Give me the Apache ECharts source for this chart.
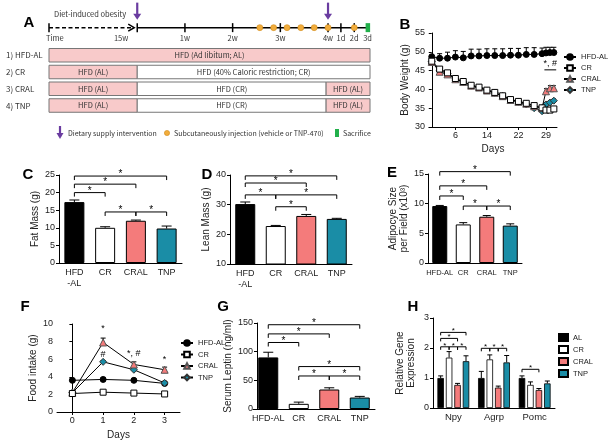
<!DOCTYPE html>
<html><head><meta charset="utf-8">
<script src="https://cdn.jsdelivr.net/npm/echarts@6/dist/echarts.min.js"></script>
<style>html,body{margin:0;padding:0;background:#fff}#c{width:615px;height:447px}</style>
</head><body><div id="c"></div>
<script>
// ================= DATA =================
const groups = ['HFD-AL','CR','CRAL','TNP'];
const barLabelsCD = ['HFD\n-AL','CR','CRAL','TNP'];
const barLabelsEG = ['HFD-AL','CR','CRAL','TNP'];

// Panel A (schematic; x in weeks after diet intervention, pre-phase compressed)
const rowLabels = ['1) HFD-AL','2) CR','3) CRAL','4) TNP'];
const phaseRow   = [1,2,2,3,3,3,4,4,4];
const phaseStart = [-1.85,-1.85,0,-1.85,0,3.96,-1.85,0,3.96];
const phaseEnd   = [4.88,0,4.88,0,3.96,4.88,0,3.96,4.88];
const phaseText  = ['HFD (Ad libitum; AL)','HFD (AL)','HFD (40% Caloric restriction; CR)','HFD (AL)','HFD (CR)','HFD (AL)','HFD (AL)','HFD (CR)','HFD (AL)'];
const phaseDiet  = ['AL','AL','CR','AL','CR','AL','AL','CR','AL'];
const timeTickAt = [-1.85,0,1,2,3,4,4.27,4.55,4.83];
const timeTickLabels = ['Time','15w','1w','2w','3w','4w','1d','2d','3d'];
const interventionAt = [0,4];
const injectionAt = [2.57,2.86,3.14,3.43,3.71,4.0,4.55];
const sacrificeAt = [4.83];

// Panel B body weight
const bDays   = [0,2,4,6,8,10,12,14,16,18,20,22,24,26,28,29,30,31];
const bHFDAL  = [48.7,48.3,48.3,48.6,48.4,48.9,48.9,49.0,49.0,49.0,49.1,49.1,49.3,49.3,49.5,49.7,49.8,49.8];
const bHFDALe = [0.4,1.2,1.6,1.7,1.7,1.8,1.8,1.8,1.8,1.8,1.8,1.8,1.8,1.8,1.5,1.5,1.4,1.4];
const bCR     = [47.5,45.4,44.4,42.9,42.1,41.1,40.6,39.8,39.2,38.3,37.3,36.8,36.3,35.7,35.1,34.5,34.5,34.8];
const bCRe    = [0.4,0.4,0.4,0.4,0.4,0.4,0.4,0.4,0.4,0.4,0.4,0.4,0.4,0.4,0.4,0.5,0.5,0.5];
const bCRAL   = [47.3,44.7,44.0,42.7,42.0,41.0,40.5,39.7,39.1,38.2,37.2,36.7,36.2,35.5,35.0,39.5,40.3,40.3];
const bCRALe  = [0.4,0.4,0.4,0.4,0.4,0.4,0.4,0.4,0.4,0.4,0.4,0.4,0.4,0.4,0.4,0.7,0.7,0.7];
const bTNP    = [47.4,45.1,44.2,42.8,42.0,41.0,40.5,39.7,39.1,38.2,37.2,36.7,36.0,35.0,34.2,36.0,36.5,37.0];
const bTNPe   = [0.4,0.4,0.4,0.4,0.4,0.4,0.4,0.4,0.4,0.4,0.4,0.4,0.4,0.4,0.4,0.5,0.5,0.5];
const bTickDays = [6,14,22,29];
const bAnnotText = ['*, #'];
const bAnnotAt = [[30.1,47.0]];
const bAnnotLine = [[28.6,45.2,31.6]];

// Panel C fat mass
const fatMass = [17.3,10.0,12.0,9.8];
const fatErr  = [0.6,0.3,0.2,0.7];
const fatSig  = [[0,24.7,3],[0,22.4,2],[0,20.0,1],[1,14.5,2],[2,14.5,3]];

// Panel D lean mass
const leanMass = [30.2,22.8,26.2,25.2];
const leanErr  = [0.7,0.2,0.5,0.2];
const leanSig  = [[0,39.7,3],[0,37.3,2],[0,33.3,1],[1,33.3,3],[1,29.3,2]];

// Panel E adipocyte size
const adipSize = [9.6,6.5,7.8,6.3];
const adipErr  = [0.1,0.3,0.2,0.3];
const adipSig  = [[0,15.4,3],[0,13.0,2],[0,11.3,1],[1,9.6,2],[2,9.6,3]];

// Panel F food intake
const fDays  = [0,1,2,3];
const fHFDAL = [3.6,3.7,3.6,3.25];
const fCR    = [2.1,2.25,2.15,2.05];
const fCRAL  = [2.2,7.9,5.4,4.8];
const fTNP   = [2.2,5.7,4.8,3.3];
const fHFDALe= [0.1,0.15,0.1,0.1];
const fCRe   = [0.1,0.1,0.1,0.1];
const fCRALe = [0.1,0.5,0.3,0.3];
const fTNPe  = [0.1,0.15,0.2,0.15];
const fAnnotText = ['*','#','*, #','*'];
const fAnnotAt = [[1,9.5],[1,6.5],[2,6.6],[3,6.0]];

// Panel G serum leptin
const leptin    = [90,9,34,20];
const leptinErr = [9,3,3,2];
const leptinSig = [[0,147,3],[0,131,2],[0,116,1],[1,74,3],[1,57.6,2],[2,57.6,3]];

// Panel H gene expression
const hGenes = ['Npy','Agrp','Pomc'];
const hGroups = ['AL','CR','CRAL','TNP'];
const hAL   = [1.0,1.0,1.0];   const hALe   = [0.07,0.22,0.07];
const hCR   = [1.68,1.62,0.77]; const hCRe  = [0.2,0.15,0.1];
const hCRAL = [0.77,0.68,0.6]; const hCRALe = [0.05,0.05,0.05];
const hTNP  = [1.56,1.52,0.82]; const hTNPe = [0.18,0.23,0.08];
// [gene, y, barA, barB]
const hSig = [[0,2.52,0,3],[0,2.32,0,2],[0,2.04,0,1],[0,2.04,1,2],[0,2.04,2,3],
              [1,1.99,0,1],[1,1.99,1,2],[1,1.99,2,3],[2,1.29,0,2]];

// ================= STYLE =================
const FN = "'Liberation Sans',Arial,sans-serif";
const FB = "'Liberation Sans',Arial,sans-serif";
const FA = "'Noto Sans CJK KR','Noto Sans',sans-serif";
const C_PINK = '#F47B7B', C_TEAL = '#1A8DA6';
const barColors = ['#000','#fff',C_PINK,C_TEAL];
const PINK_A = '#F8CACA';
const PURPLE = '#6A3CA0', ORANGE = '#F2AD3C', GREEN = '#22B04B';
const TXT = '#222';
const TL_Y = -0.65;

function T(text, x, y, size, opts){
  opts = opts || {};
  return {type:'text', style:{text:text, x:x, y:y, fontSize:size, fontFamily:opts.family||FN,
    fontWeight:opts.weight||'normal', fill:opts.fill||TXT,
    align:opts.align||'center', textAlign:opts.align||'center',
    verticalAlign:opts.va||'middle', textVerticalAlign:opts.va||'middle'}};
}

// ---- renderers ----
function rPhase(params, api){
  const i = params.dataIndex;
  const s = api.coord([api.value(0), api.value(1)]);
  const e = api.coord([api.value(2), api.value(1)]);
  const h = 13.5;
  return {type:'group', children:[
    {type:'rect', shape:{x:s[0], y:s[1]-h/2, width:e[0]-s[0], height:h},
     style:{fill: phaseDiet[i]==='AL' ? PINK_A : '#fff', stroke:'#777', lineWidth:1}},
    T(phaseText[i], (s[0]+e[0])/2, s[1], 7.5, {family:FA, fill:'#333'})
  ]};
}
function rRowLabel(params, api){
  const p = api.coord([api.value(0), api.value(1)]);
  return T(rowLabels[params.dataIndex], p[0]-43, p[1], 8, {family:FA, align:'left', fill:'#333'});
}
function rTimeline(params, api){
  const a = api.coord([timeTickAt[0], TL_Y]);
  const b = api.coord([0, TL_Y]);
  const e = api.coord([sacrificeAt[0], TL_Y]);
  return {type:'group', children:[
    {type:'line', shape:{x1:a[0], y1:a[1], x2:b[0]-6, y2:b[1]}, style:{stroke:'#000', lineWidth:1.5, lineDash:[4,2.5]}},
    {type:'polyline', shape:{points:[[b[0]-9,b[1]-3.5],[b[0]-3,b[1]],[b[0]-9,b[1]+3.5]]}, style:{stroke:'#000', lineWidth:1.5, fill:null}},
    {type:'line', shape:{x1:b[0], y1:b[1], x2:e[0], y2:e[1]}, style:{stroke:'#000', lineWidth:1.5}},
    T('Diet-induced obesity', (a[0]+b[0])/2 - 3, a[1]-13, 7.5, {family:FA, fill:'#333'})
  ]};
}
function rTick(params, api){
  const i = params.dataIndex;
  const p = api.coord([api.value(0), api.value(1)]);
  let align = 'center', dx = 0;
  if (i === 0) { align = 'left'; dx = -3; } else if (i === 1) { align = 'right'; dx = -9; }
  const ch = [T(timeTickLabels[i], p[0]+dx, p[1]+11, 7.5, {family:FA, align:align, fill:'#333'})];
  if (i < timeTickAt.length-1) ch.unshift({type:'line', shape:{x1:p[0], y1:p[1]-4.5, x2:p[0], y2:p[1]+4.5}, style:{stroke:'#000', lineWidth:1.5}});
  return {type:'group', children:ch};
}
function rIntervention(params, api){
  const p = api.coord([api.value(0), api.value(1)]);
  return {type:'group', children:[
    {type:'line', shape:{x1:p[0], y1:p[1]-25, x2:p[0], y2:p[1]-13}, style:{stroke:PURPLE, lineWidth:2.2}},
    {type:'polygon', shape:{points:[[p[0]-4,p[1]-14],[p[0]+4,p[1]-14],[p[0],p[1]-8]]}, style:{fill:PURPLE}}
  ]};
}
function rInjection(params, api){
  const p = api.coord([api.value(0), api.value(1)]);
  return {type:'circle', shape:{cx:p[0], cy:p[1], r:3}, style:{fill:ORANGE, stroke:'#D08A1A', lineWidth:0.6}};
}
function rSacrifice(params, api){
  const p = api.coord([api.value(0), api.value(1)]);
  return {type:'rect', shape:{x:p[0]-2, y:p[1]-4.5, width:4.5, height:9}, style:{fill:GREEN}};
}
function rErr(cap, offFn){
  return function(params, api){
    const x = api.value(0), v = api.value(1), e = api.value(2);
    const off = offFn ? offFn(api.value(3)) : 0;
    const p0 = api.coord([x, v]), p1 = api.coord([x, v+e]);
    const xx = p0[0] + off;
    return {type:'group', children:[
      {type:'line', shape:{x1:xx, y1:p0[1], x2:xx, y2:p1[1]}, style:{stroke:'#000', lineWidth:1}},
      {type:'line', shape:{x1:xx-cap, y1:p1[1], x2:xx+cap, y2:p1[1]}, style:{stroke:'#000', lineWidth:1}}
    ]};
  };
}
function bracketShape(x1, x2, y, tick, fs){
  return {type:'group', children:[
    {type:'polyline', shape:{points:[[x1,y+tick],[x1,y],[x2,y],[x2,y+tick]]}, style:{stroke:'#000', lineWidth:1, fill:null}},
    T('*', (x1+x2)/2, y-1.5, fs, {family:FB, fill:'#000'})
  ]};
}
function rBr(tick, fs){
  return function(params, api){
    const p1 = api.coord([api.value(0), api.value(1)]);
    const p2 = api.coord([api.value(2), api.value(1)]);
    return bracketShape(p1[0], p2[0], p1[1], tick, fs);
  };
}
const H_STEP = 6.5*1.3;
function hOff(k){ return (k-1.5)*H_STEP; }
function rBrH(params, api){
  const p = api.coord([api.value(0), api.value(1)]);
  return bracketShape(p[0]+hOff(api.value(2)), p[0]+hOff(api.value(3)), p[1], 3, 8);
}
function rAnnot(texts){
  return function(params, api){
    const p = api.coord([api.value(0), api.value(1)]);
    return T(texts[params.dataIndex], p[0], p[1], 9, {family:FB, fill:'#000'});
  };
}
function rHLine(params, api){
  const p1 = api.coord([api.value(0), api.value(1)]);
  const p2 = api.coord([api.value(2), api.value(1)]);
  return {type:'line', shape:{x1:p1[0], y1:p1[1], x2:p2[0], y2:p2[1]}, style:{stroke:'#000', lineWidth:1}};
}

// ---- axes helpers ----
const axLine = {show:true, lineStyle:{color:'#000', width:1}};
function yAx(g, min, max, interval, name, gap){
  return {type:'value', gridIndex:g, min:min, max:max, interval:interval, name:name,
    nameLocation:'middle', nameGap:gap, nameRotate:90,
    nameTextStyle:{fontSize:10, color:TXT, fontFamily:FN, lineHeight:11},
    axisLine:axLine, axisTick:{show:true, length:3, lineStyle:{color:'#000'}},
    axisLabel:{fontSize:9, color:TXT, margin:4, fontFamily:FN}, splitLine:{show:false}};
}
function xCat(g, data, fs, lh){
  return {type:'category', gridIndex:g, data:data, boundaryGap:true,
    axisLine:axLine, axisTick:{show:false},
    axisLabel:{fontSize:fs, color:TXT, margin:4, interval:0, fontFamily:FN, lineHeight:lh||11}, splitLine:{show:false}};
}
function xVal(g, min, max, ticks, name, gap){
  return {type:'value', gridIndex:g, min:min, max:max, name:name, nameLocation:'middle', nameGap:gap,
    nameTextStyle:{fontSize:10, color:TXT, fontFamily:FN},
    axisLine:axLine, axisTick:{show:true, length:3, customValues:ticks, lineStyle:{color:'#000'}},
    axisLabel:{fontSize:9, color:TXT, margin:4, customValues:ticks, fontFamily:FN}, splitLine:{show:false}};
}

// ---- series helpers ----
const lineStyles = {
  'HFD-AL': {symbol:'circle', size:6, color:'#000', border:'#000', z:3},
  'CR':     {symbol:'rect', size:6, color:'#fff', border:'#000', z:3.3},
  'CRAL':   {symbol:'triangle', size:7, color:C_PINK, border:'#555', z:3.2},
  'TNP':    {symbol:'diamond', size:7, color:C_TEAL, border:'#333', z:3.1}
};
function lineSeries(g, name, xs, ys){
  const s = lineStyles[name];
  return {type:'line', name:name, xAxisIndex:g, yAxisIndex:g, data:xs.map((x,i)=>[x, ys[i]]),
    symbol:s.symbol, symbolSize:s.size, showSymbol:true, z:s.z,
    lineStyle:{color:'#000', width:1}, itemStyle:{color:s.color, borderColor:s.border, borderWidth:1}};
}
function errSeries(g, xs, ys, es, cap, offFn, extra){
  return {type:'custom', xAxisIndex:g, yAxisIndex:g, z:(extra&&extra.z)||4, silent:true,
    renderItem:rErr(cap, offFn), data:xs.map((x,i)=>extra&&extra.k!==undefined ? [x, ys[i], es[i], extra.k] : [x, ys[i], es[i]])};
}
function barPanel(g, vals, errs, sig, bw, cap){
  return [
    {type:'bar', xAxisIndex:g, yAxisIndex:g, barWidth:bw, silent:true, z:2,
     data:vals.map((v,i)=>({value:v, itemStyle:{color:barColors[i]}})),
     itemStyle:{borderColor:'#000', borderWidth:1}},
    errSeries(g, vals.map((v,i)=>i), vals, errs, cap, null, {z:3}),
    {type:'custom', xAxisIndex:g, yAxisIndex:g, z:5, silent:true, renderItem:rBr(4, 10), data:sig}
  ];
}

const hVals = [hAL, hCR, hCRAL, hTNP];
const hErrs = [hALe, hCRe, hCRALe, hTNPe];

const series = [
  // ---- A ----
  {type:'custom', xAxisIndex:0, yAxisIndex:0, renderItem:rPhase, silent:true,
   data:phaseStart.map((s,i)=>[s, phaseRow[i], phaseEnd[i]])},
  {type:'custom', xAxisIndex:0, yAxisIndex:0, renderItem:rRowLabel, silent:true,
   data:rowLabels.map((r,i)=>[phaseStart[0], i+1])},
  {type:'custom', xAxisIndex:0, yAxisIndex:0, renderItem:rTimeline, silent:true, data:[[0, TL_Y]]},
  {type:'custom', xAxisIndex:0, yAxisIndex:0, renderItem:rTick, silent:true, z:3, data:timeTickAt.map(t=>[t, TL_Y])},
  {type:'custom', xAxisIndex:0, yAxisIndex:0, renderItem:rIntervention, silent:true, data:interventionAt.map(t=>[t, TL_Y])},
  {type:'custom', xAxisIndex:0, yAxisIndex:0, renderItem:rInjection, silent:true, z:4, data:injectionAt.map(t=>[t, TL_Y])},
  {type:'custom', xAxisIndex:0, yAxisIndex:0, renderItem:rSacrifice, silent:true, z:4, data:sacrificeAt.map(t=>[t, TL_Y])},
  // ---- B ----
  errSeries(1, bDays, bHFDAL, bHFDALe, 2.5, null, {z:1}),
  errSeries(1, bDays, bCR, bCRe, 2, null, {z:1}),
  errSeries(1, bDays, bCRAL, bCRALe, 2, null, {z:1}),
  errSeries(1, bDays, bTNP, bTNPe, 2, null, {z:1}),
  lineSeries(1, 'HFD-AL', bDays, bHFDAL),
  lineSeries(1, 'CR', bDays, bCR),
  lineSeries(1, 'CRAL', bDays, bCRAL),
  lineSeries(1, 'TNP', bDays, bTNP),
  {type:'custom', xAxisIndex:1, yAxisIndex:1, renderItem:rAnnot(bAnnotText), silent:true, data:bAnnotAt},
  {type:'custom', xAxisIndex:1, yAxisIndex:1, renderItem:rHLine, silent:true, data:bAnnotLine},
  // ---- C, D, E, G ----
  ...barPanel(2, fatMass, fatErr, fatSig, 20, 5),
  ...barPanel(3, leanMass, leanErr, leanSig, 20, 5),
  ...barPanel(4, adipSize, adipErr, adipSig, 15, 4),
  ...barPanel(6, leptin, leptinErr, leptinSig, 20, 5),
  // ---- F ----
  errSeries(5, fDays, fHFDAL, fHFDALe, 2.5, null, {z:1}),
  errSeries(5, fDays, fCR, fCRe, 2.5, null, {z:1}),
  errSeries(5, fDays, fCRAL, fCRALe, 2.5, null, {z:1}),
  errSeries(5, fDays, fTNP, fTNPe, 2.5, null, {z:1}),
  lineSeries(5, 'HFD-AL', fDays, fHFDAL),
  lineSeries(5, 'CR', fDays, fCR),
  lineSeries(5, 'CRAL', fDays, fCRAL),
  lineSeries(5, 'TNP', fDays, fTNP),
  {type:'custom', xAxisIndex:5, yAxisIndex:5, renderItem:rAnnot(fAnnotText), silent:true, data:fAnnotAt},
  // ---- H ----
  ...hGroups.map((gname,k)=>({type:'bar', name:'H:'+gname, xAxisIndex:7, yAxisIndex:7, barWidth:6.5, barGap:'30%',
     silent:true, z:2, data:hVals[k], itemStyle:{color:barColors[k], borderColor:'#000', borderWidth:0.8}})),
  ...hGroups.map((gname,k)=>errSeries(7, hGenes.map((g,i)=>i), hVals[k], hErrs[k], 2.5, hOff, {z:3, k:k})),
  {type:'custom', xAxisIndex:7, yAxisIndex:7, z:5, silent:true, renderItem:rBrH, data:hSig}
];

const legendBase = {orient:'vertical', selectedMode:false, itemGap:3, itemHeight:7,
  textStyle:{fontSize:7.5, color:TXT, fontFamily:FN}, padding:0};

const option = {
  animation:false,
  textStyle:{fontFamily:FN},
  grid:[
    {left:49, top:0, width:321, height:139},
    {left:429, top:33, width:128, height:94},
    {left:59, top:175, width:123, height:88},
    {left:230, top:175, width:122, height:89},
    {left:428, top:174, width:94, height:89},
    {left:57, top:324, width:123, height:88},
    {left:253, top:323, width:122, height:86},
    {left:433, top:318, width:122, height:90}
  ],
  xAxis:[
    {type:'value', gridIndex:0, min:-1.85, max:4.88, show:false},
    xVal(1, -0.7, 31.8, bTickDays, 'Days', 17),
    xCat(2, barLabelsCD, 9, 11),
    xCat(3, barLabelsCD, 9, 11),
    xCat(4, barLabelsEG, 7.5, 11),
    xVal(5, -0.5, 3.5, fDays, 'Days', 18),
    xCat(6, barLabelsEG, 9, 11),
    xCat(7, hGenes, 9.5, 11)
  ],
  yAxis:[
    {type:'value', gridIndex:0, min:-2.3, max:6, inverse:true, show:false},
    yAx(1, 30, 55, 5, 'Body Weight (g)', 16),
    yAx(2, 0, 25, 5, 'Fat Mass (g)', 14),
    yAx(3, 10, 40, 10, 'Lean Mass (g)', 15),
    yAx(4, 0, 15, 5, 'Adipocye Size\nper Field (x10³)', 18),
    yAx(5, 0, 10, 2, 'Food intake (g)', 17),
    Object.assign(yAx(6, 0, 150, 50, 'Serum Leptin (ng/ml)', 15), {offset:-4}),
    yAx(7, 0, 3, 1, 'Relative Gene\nExpression', 16)
  ],
  legend:[
    Object.assign({}, legendBase, {data:groups, left:563, top:53, itemWidth:12}),
    Object.assign({}, legendBase, {data:groups, left:180, top:339, itemWidth:12, itemGap:3.5}),
    Object.assign({}, legendBase, {data:hGroups.map(g=>'H:'+g), formatter:n=>n.replace('H:',''), icon:'rect',
      left:558, top:333, itemWidth:9, itemHeight:7, itemGap:3})
  ],
  graphic:[
    {type:'group', silent:true, children:[
      T('A', 29, 23, 15, {family:FB, weight:'bold', fill:'#000'}),
      T('B', 405, 25, 15, {family:FB, weight:'bold', fill:'#000'}),
      T('C', 28, 175, 15, {family:FB, weight:'bold', fill:'#000'}),
      T('D', 207, 175, 15, {family:FB, weight:'bold', fill:'#000'}),
      T('E', 392, 173, 15, {family:FB, weight:'bold', fill:'#000'}),
      T('F', 25, 307, 15, {family:FB, weight:'bold', fill:'#000'}),
      T('G', 223, 307, 15, {family:FB, weight:'bold', fill:'#000'}),
      T('H', 413, 307, 15, {family:FB, weight:'bold', fill:'#000'}),
      // legend row of panel A
      {type:'line', shape:{x1:60, y1:126, x2:60, y2:134}, style:{stroke:PURPLE, lineWidth:2.2}},
      {type:'polygon', shape:{points:[[56.5,133],[63.5,133],[60,139]]}, style:{fill:PURPLE}},
      T('Dietary supply intervention', 68, 133, 7, {family:FA, align:'left', fill:'#333'}),
      {type:'circle', shape:{cx:167, cy:133, r:2.6}, style:{fill:ORANGE, stroke:'#D08A1A', lineWidth:0.6}},
      T('Subcutaneously injection (vehicle or TNP-470)', 174, 133, 7, {family:FA, align:'left', fill:'#333'}),
      {type:'rect', shape:{x:335, y:129, width:4, height:8}, style:{fill:GREEN}},
      T('Sacrifice', 343, 133, 7, {family:FA, align:'left', fill:'#333'})
    ]}
  ],
  series:series
};

const chart = echarts.init(document.getElementById('c'), null, {renderer:'canvas'});
chart.setOption(option);
</script>
</body></html>
